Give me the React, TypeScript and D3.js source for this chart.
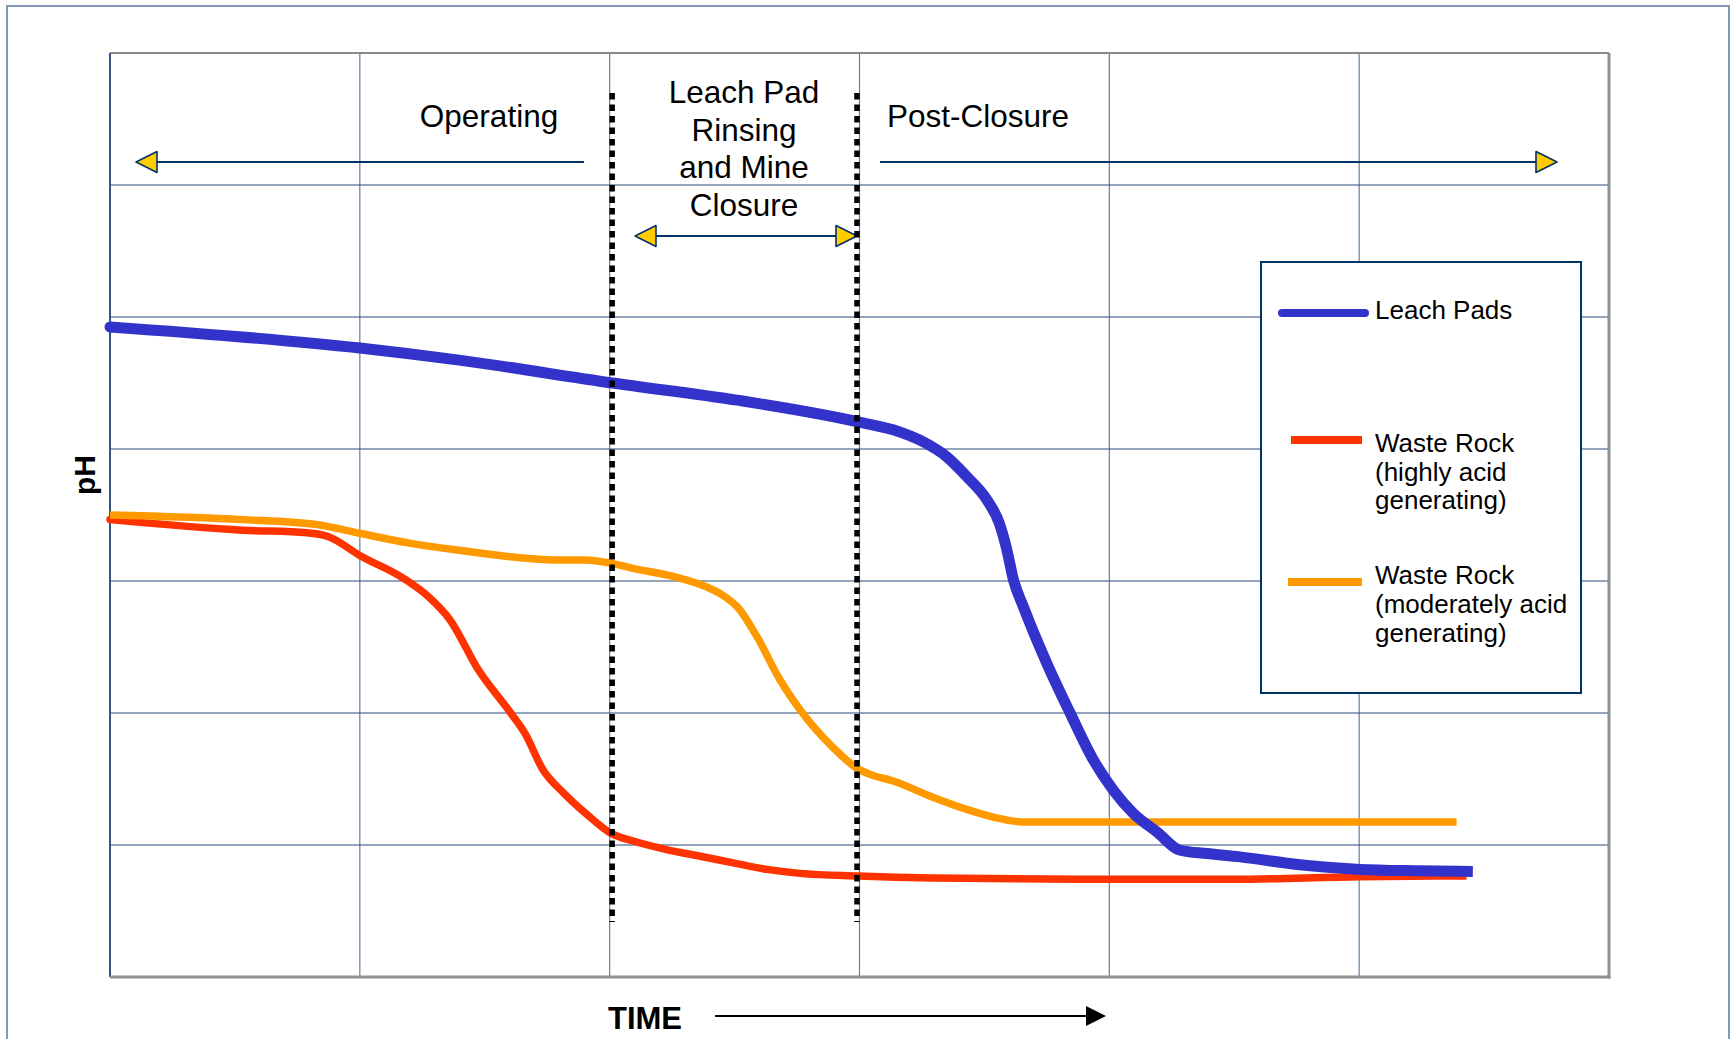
import React from "react";
import * as d3 from "d3";

// Canvas and plot frame
const W = 1735;
const H = 1039;
const plot = { left: 110, right: 1609, top: 53, bottom: 977 };

// Time runs over six grid intervals; pH over 0-14 (grid every 2 units)
const timeDomain = [0, 6];
const pHDomain = [0, 14];
const timeGrid = [1, 2, 3, 4, 5];
const pHGrid = [2, 4, 6, 8, 10, 12];

// Boundaries between Operating / Rinsing & Closure / Post-Closure
const phaseBounds = [2.01, 2.99];

// Leach pads: [time, pH]
const leachPads: [number, number][] = [
  [0, 9.85], [1.0, 9.53], [1.39, 9.35], [2.01, 9.0], [2.51, 8.74], [2.995, 8.41],
  [3.16, 8.26], [3.255, 8.11], [3.35, 7.88], [3.43, 7.58], [3.51, 7.23], [3.56, 6.87],
  [3.59, 6.47], [3.616, 6.02], [3.656, 5.61], [3.75, 4.75], [3.843, 4.0], [3.936, 3.29],
  [4.016, 2.83], [4.096, 2.48], [4.19, 2.2], [4.283, 1.92], [4.39, 1.87], [4.523, 1.82],
  [4.763, 1.7], [5.003, 1.63], [5.23, 1.61], [5.455, 1.6],
];

// Waste rock, highly acid generating: [time, pH]
const wasteRockHigh: [number, number][] = [
  [0, 6.93], [0.532, 6.77], [0.789, 6.73], [0.875, 6.67], [1.003, 6.38], [1.175, 6.04],
  [1.275, 5.76], [1.361, 5.41], [1.475, 4.65], [1.604, 4.0], [1.661, 3.69], [1.733, 3.14],
  [1.818, 2.78], [1.904, 2.48], [2.004, 2.18], [2.095, 2.06], [2.228, 1.93], [2.362, 1.83],
  [2.495, 1.73], [2.629, 1.63], [2.762, 1.57], [2.995, 1.53], [3.296, 1.5], [3.963, 1.48],
  [4.495, 1.48], [5.003, 1.52], [5.43, 1.53],
];

// Waste rock, moderately acid generating: [time, pH]
const wasteRockModerate: [number, number][] = [
  [0, 7.0], [0.532, 6.93], [0.818, 6.86], [1.003, 6.72], [1.204, 6.57], [1.389, 6.47],
  [1.789, 6.32], [1.904, 6.32], [2.004, 6.27], [2.093, 6.19], [2.254, 6.07], [2.388, 5.91],
  [2.442, 5.81], [2.515, 5.59], [2.589, 5.16], [2.682, 4.5], [2.762, 4.05], [2.896, 3.47],
  [2.995, 3.15], [3.042, 3.07], [3.135, 2.97], [3.296, 2.72], [3.429, 2.54], [3.562, 2.4],
  [3.649, 2.35], [5.39, 2.35],
];

const seriesNames = ["Leach Pads", "Waste Rock (highly acid generating)", "Waste Rock (moderately acid generating)"];
const seriesColors = ["#3333cc", "#ff3300", "#ff9900"];
const seriesWidths = [11, 7.5, 7.5];
const legendLines = [
  ["Leach Pads"],
  ["Waste Rock", "(highly acid", "generating)"],
  ["Waste Rock", "(moderately acid", "generating)"],
];

const FONT = "'Liberation Sans', Arial, Helvetica, sans-serif";
const NAVY = "#003366";
const GOLD = "#ffcc00";

function leftHead(tipX: number, y: number) {
  return `${tipX},${y} ${tipX + 21},${y - 10.5} ${tipX + 21},${y + 10.5}`;
}
function rightHead(tipX: number, y: number) {
  return `${tipX},${y} ${tipX - 21},${y - 10.5} ${tipX - 21},${y + 10.5}`;
}

export default function App() {
  const x = d3.scaleLinear().domain(timeDomain).range([plot.left, plot.right]);
  const y = d3.scaleLinear().domain(pHDomain).range([plot.bottom, plot.top]);
  const line = d3
    .line<[number, number]>()
    .x((d) => x(d[0]))
    .y((d) => y(d[1]))
    .curve(d3.curveMonotoneX);

  const series = [leachPads, wasteRockHigh, wasteRockModerate];
  const drawOrder = [1, 2, 0];

  const legend = { x: 1261, y: 262, w: 320, h: 431 };
  const legendRows = [
    { lineY: 313, x0: 1282, x1: 1365, textY: [319] },
    { lineY: 440, x0: 1291, x1: 1362, textY: [452, 481, 509] },
    { lineY: 582, x0: 1288, x1: 1362, textY: [584, 613, 642] },
  ];

  return (
    <svg
      width={W}
      height={H}
      viewBox={`0 0 ${W} ${H}`}
      style={{ position: "absolute", left: 0, top: 0, display: "block", background: "#fff" }}
      fontFamily={FONT}
    >
      <rect x={0} y={0} width={W} height={H} fill="#fff" />
      {/* outer page frame */}
      <rect x={7} y={6} width={1722} height={1060} fill="none" stroke="#8098b4" strokeWidth={2} />

      {/* grid */}
      {timeGrid.map((t) => (
        <line key={`vx${t}`} x1={x(t)} x2={x(t)} y1={plot.top} y2={plot.bottom} stroke="#5f7fa3" strokeWidth={1.2} />
      ))}
      {pHGrid.map((p) => (
        <line key={`hy${p}`} x1={plot.left} x2={plot.right} y1={y(p)} y2={y(p)} stroke="#2a4c78" strokeWidth={1.2} />
      ))}

      {/* plot border */}
      <line x1={plot.left} x2={plot.right} y1={plot.top} y2={plot.top} stroke="#8a8a8a" strokeWidth={2} />
      <line x1={plot.left} x2={plot.left} y1={plot.top} y2={plot.bottom} stroke="#34557d" strokeWidth={2} />
      <line x1={plot.right} x2={plot.right} y1={plot.top} y2={plot.bottom + 1.5} stroke="#909090" strokeWidth={3} />
      <line x1={plot.left} x2={plot.right + 1.5} y1={plot.bottom} y2={plot.bottom} stroke="#909090" strokeWidth={3} />

      {/* phase labels */}
      <text x={489} y={127} fontSize={31.5} textAnchor="middle" fill="#000">Operating</text>
      <text x={887} y={127} fontSize={31.5} textAnchor="start" fill="#000">Post-Closure</text>
      {["Leach Pad", "Rinsing", "and Mine", "Closure"].map((s, i) => (
        <text key={s} x={744} y={103 + i * 37.7} fontSize={31.5} textAnchor="middle" fill="#000">{s}</text>
      ))}

      {/* phase arrows */}
      <line x1={150} x2={584} y1={162} y2={162} stroke={NAVY} strokeWidth={2} />
      <polygon points={leftHead(136, 162)} fill={GOLD} stroke={NAVY} strokeWidth={1.6} strokeLinejoin="round" />
      <line x1={880} x2={1545} y1={162} y2={162} stroke={NAVY} strokeWidth={2} />
      <polygon points={rightHead(1557, 162)} fill={GOLD} stroke={NAVY} strokeWidth={1.6} strokeLinejoin="round" />
      <line x1={650} x2={842} y1={236} y2={236} stroke={NAVY} strokeWidth={2} />
      <polygon points={leftHead(635, 236)} fill={GOLD} stroke={NAVY} strokeWidth={1.6} strokeLinejoin="round" />
      <polygon points={rightHead(857, 236)} fill={GOLD} stroke={NAVY} strokeWidth={1.6} strokeLinejoin="round" />

      {/* legend box */}
      <rect x={legend.x} y={legend.y} width={legend.w} height={legend.h} fill="#fff" stroke={NAVY} strokeWidth={2} />
      {legendRows.map((r, i) => (
        <g key={seriesNames[i]}>
          <line
            x1={r.x0}
            x2={r.x1}
            y1={r.lineY}
            y2={r.lineY}
            stroke={seriesColors[i]}
            strokeWidth={8}
            strokeLinecap={i === 0 ? "round" : "butt"}
          />
          {legendLines[i].map((s, j) => (
            <text key={s} x={1375} y={r.textY[j]} fontSize={26} fill="#000">{s}</text>
          ))}
        </g>
      ))}

      {/* curves */}
      {drawOrder.map((i) => (
        <g key={`s${i}`}>
          <path d={line(series[i]) || ""} fill="none" stroke={seriesColors[i]} strokeWidth={seriesWidths[i]} strokeLinejoin="round" />
          {i !== 2 && (
            <circle cx={x(series[i][0][0])} cy={y(series[i][0][1])} r={seriesWidths[i] / 2} fill={seriesColors[i]} />
          )}
        </g>
      ))}

      {/* phase boundaries */}
      {phaseBounds.map((b) => (
        <line key={`pb${b}`} x1={x(b)} x2={x(b)} y1={93} y2={922} stroke="#000" strokeWidth={5.5} strokeDasharray="6.5,5" />
      ))}

      {/* axis labels */}
      <text transform="translate(94.5,475) rotate(-90)" fontSize={30} fontWeight="bold" textAnchor="middle" fill="#000">pH</text>
      <text x={608} y={1029} fontSize={31} fontWeight="bold" fill="#000">TIME</text>
      <line x1={715} x2={1090} y1={1016} y2={1016} stroke="#000" strokeWidth={2} />
      <polygon points="1106,1016 1086,1006 1086,1026" fill="#000" />
    </svg>
  );
}
